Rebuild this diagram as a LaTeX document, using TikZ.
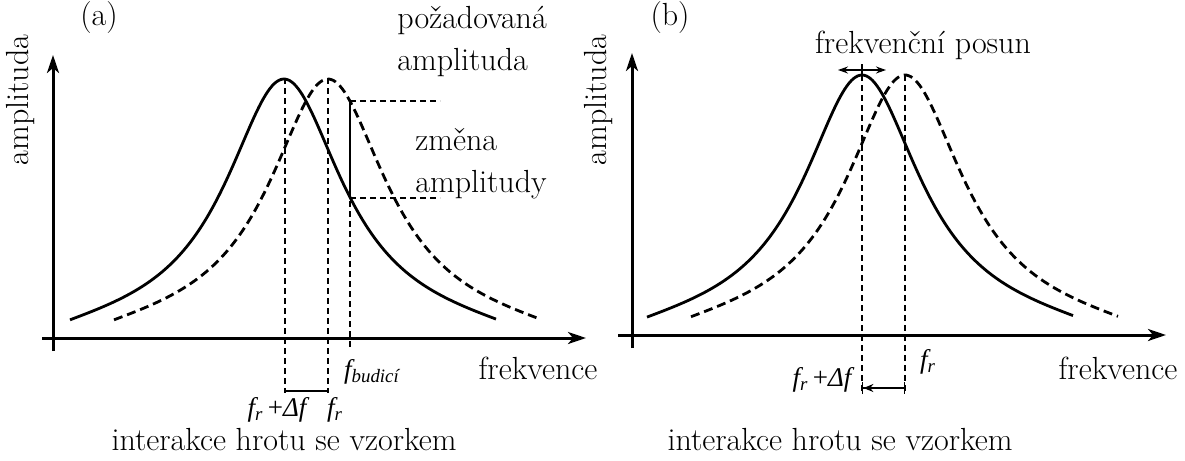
\documentclass[tikz,border=0pt]{standalone}
\usepackage{fontspec}
\newfontfamily\tfont{Liberation Serif}
\usetikzlibrary{arrows.meta}
\begin{document}
\begin{tikzpicture}[x=0.5pt,y=-0.5pt,
  axis/.style={line width=1.5pt,-{Stealth[length=9pt,width=6pt,inset=2.5pt]}},
  curve/.style={line width=1.4pt},
  dcurve/.style={line width=1.4pt,dash pattern=on 4.5pt off 2.5pt},
  guide/.style={line width=0.6pt,dash pattern=on 3pt off 2pt},
  thin/.style={line width=0.7pt},
  lbl/.style={inner sep=0pt,font=\fontsize{16}{19}\selectfont},
  llbl/.style={inner sep=0pt,anchor=west,align=left,font=\fontsize{16}{21}\selectfont},
  flbl/.style={inner sep=0pt,font=\fontsize{13.5}{15}\tfont\itshape}]
\useasboundingbox (0,0) rectangle (1185,461);
\fill[white] (0,0) rectangle (1185,461);

% ---------- panel (a) ----------
\coordinate (ya0) at (53,351); \coordinate (ya1) at (53,55);
\coordinate (xa0) at (42,338); \coordinate (xa1) at (586,338);
\draw[axis] (ya0) -- (ya1);
\draw[axis] (xa0) -- (xa1);
\draw[curve] plot[domain=-214:212,samples=100,smooth] ({284+\x},{338-259/(1+(\x/72)^2)+8*(\x/213)^4});
\draw[dcurve] plot[domain=-214:212,samples=100,smooth] ({328+\x},{338-259/(1+(\x/72)^2)+8*(\x/213)^4});

\coordinate (a1t) at (285,78); \coordinate (a1b) at (285,393);
\coordinate (a2t) at (328,78); \coordinate (a2b) at (328,393);
\coordinate (abt) at (350,101); \coordinate (abb) at (350,347);
\coordinate (abm) at (350,198);
\coordinate (ah1) at (440,101); \coordinate (ah2) at (440,198);
\draw[guide] (a1t) -- (a1b);
\draw[guide] (a2t) -- (a2b);
\draw[guide] (abt) -- (abb);
\draw[guide] (abt) -- (ah1);
\draw[guide] (abm) -- (ah2);
\draw[thin] (abt) -- (abm);
\coordinate (abl) at (285,391); \coordinate (abr) at (328,391);
\draw[thin] (abl) -- (abr);

\node[lbl] (la) at (99,18) {(a)};
\node[lbl,rotate=90] (ampa) at (21,100) {amplituda};
\node[lbl] (freqa) at (538,368) {frekvence};
\node[llbl] (poz) at (397,41) {požadovaná\\amplituda};
\node[llbl] (zm) at (415,164) {změna\\amplitudy};
\node[flbl] (fbud) at (372,372) {f\textsubscript{budicí}};
\node[flbl] (fra) at (277,410) {f\textsubscript{r}\,{\upshape +}Δf};
\node[flbl] (fra2) at (335,410) {f\textsubscript{r}};
\node[lbl] (inta) at (284,440) {interakce hrotu se vzorkem};

% ---------- panel (b) ----------
\coordinate (yb0) at (632,348); \coordinate (yb1) at (632,53);
\coordinate (xb0) at (618,335); \coordinate (xb1) at (1166,335);
\draw[axis] (yb0) -- (yb1);
\draw[axis] (xb0) -- (xb1);
\draw[curve] plot[domain=-215:211,samples=100,smooth] ({862+\x},{335-260/(1+(\x/72)^2)+8*(\x/213)^4});
\draw[dcurve] plot[domain=-214:213,samples=100,smooth] ({905+\x},{335-260/(1+(\x/72)^2)+8*(\x/213)^4});

\coordinate (b1t) at (862,75); \coordinate (b1b) at (862,392);
\coordinate (b2t) at (905,75); \coordinate (b2b) at (905,392);
\draw[guide] (b1t) -- (b1b);
\draw[guide] (b2t) -- (b2b);
\coordinate (bsl) at (838,70); \coordinate (bsr) at (886,70);
\draw[thin,{Stealth[length=5pt,width=3.5pt]}-{Stealth[length=5pt,width=3.5pt]}] (bsl) -- (bsr);
\coordinate (bt1) at (862,64); \coordinate (bt2) at (862,76);
\draw[thin] (bt1) -- (bt2);
\coordinate (bal) at (862,388); \coordinate (bar) at (905,388);
\draw[thin,{Bar[width=6pt]Stealth[length=5pt,width=4pt]}-{Bar[width=6pt]}] (bal) -- (bar);

\node[lbl] (lb) at (670,18) {(b)};
\node[lbl,rotate=90] (ampb) at (599,100) {amplituda};
\node[lbl] (freqb) at (1118,368) {frekvence};
\node[lbl] (posun) at (923,45) {frekvenční posun};
\node[flbl] (frb) at (822,380) {f\textsubscript{r}\,{\upshape +}Δf};
\node[flbl] (frb2) at (928,362) {f\textsubscript{r}};
\node[lbl] (intb) at (840,440) {interakce hrotu se vzorkem};
\end{tikzpicture}
\end{document}
